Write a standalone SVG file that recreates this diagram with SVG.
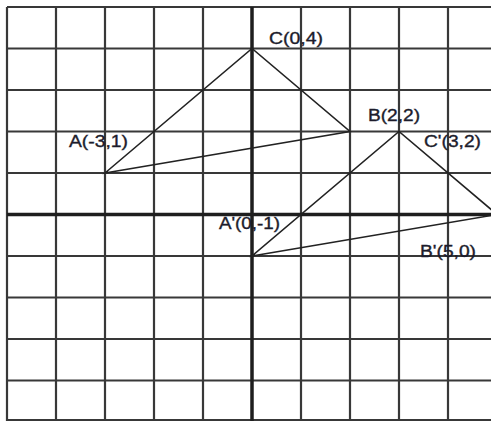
<svg xmlns="http://www.w3.org/2000/svg" width="491" height="421" viewBox="0 0 491 421">
<style>
.grid{stroke:#383838;stroke-width:2.2;fill:none}
.axis{stroke:#1e1e1e;stroke-width:3.5;fill:none}
.edge{stroke:#222;stroke-width:1.6;fill:none}
.lbl{font-family:"Liberation Sans",Arial,sans-serif;font-size:16px;fill:#1c1c2c;stroke:#1c1c2c;stroke-width:0.35}
</style>
<rect width="491" height="421" fill="#fff"/>
<g id="grid">
<path class="grid" d="M7 7V421M56 7V421M105 7V421M154 7V421M203 7V421M301 7V421M350 7V421M399 7V421M448 7V421"/>
<path class="grid" d="M7 7H491M7 48.5H491M7 90H491M7 131.5H491M7 173H491M7 256H491M7 297.5H491M7 339H491M7 380.5H491M7 420H491"/>
</g>
<g id="axes">
<path class="axis" d="M252 7V421M7 214.5H491"/>
</g>
<g id="connectors">
<polygon id="triangle-ABC" class="edge" points="105,173 252,48.5 350,131.5"/>
<polyline id="triangle-A2B2C2" class="edge" points="497,214.5 252,256 399,131.5 497,214.5"/>
</g>
<g id="node-C"><text class="lbl" x="269" y="44" textLength="54" lengthAdjust="spacingAndGlyphs">C(0,4)</text></g>
<g id="node-B"><text class="lbl" x="368" y="121" textLength="52" lengthAdjust="spacingAndGlyphs">B(2,2)</text></g>
<g id="node-C2"><text class="lbl" x="424" y="147" textLength="57" lengthAdjust="spacingAndGlyphs">C'(3,2)</text></g>
<g id="node-A"><text class="lbl" x="69" y="147" textLength="59" lengthAdjust="spacingAndGlyphs">A(-3,1)</text></g>
<g id="node-A2"><text class="lbl" x="219" y="229" textLength="61" lengthAdjust="spacingAndGlyphs">A'(0,-1)</text></g>
<g id="node-B2"><text class="lbl" x="420" y="257" textLength="56" lengthAdjust="spacingAndGlyphs">B'(5,0)</text></g>
</svg>
